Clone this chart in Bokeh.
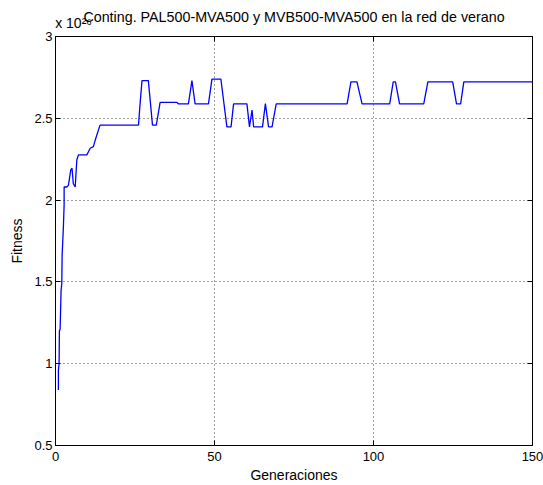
from bokeh.plotting import figure
from bokeh.models import FixedTicker, LinearAxis, Range1d
from bokeh.embed import file_html
from bokeh.resources import INLINE

title_text = "Conting. PAL500-MVA500 y MVB500-MVA500 en la red de verano"
x_label = "Generaciones"
y_label = "Fitness"

generation = [0.91, 0.91, 1.13, 1.23, 1.45, 1.76, 1.98, 2.08, 2.49, 2.71,
              2.71, 3.56, 4.06, 4.8, 5.2, 5.6, 6.2, 6.7, 7.2, 9.85,
              10.9, 11.9, 12.5, 14.0, 26.1, 26.6, 27.2, 29.2, 30.5, 31.7,
              32.9, 38.2, 38.7, 41.8, 42.9, 43.9, 48.1, 49.2, 52.0, 53.9,
              55.2, 56.0, 60.2, 61.0, 61.8, 62.3, 65.1, 66.0, 67.0, 68.1,
              69.4, 91.7, 92.9, 94.8, 96.4, 105.1, 106.2, 106.9, 108.2, 115.8,
              117.1, 124.9, 126.1, 127.4, 128.4, 150.0]
fitness = [0.84, 0.96, 1.0, 1.2, 1.21, 1.45, 1.49, 1.66, 1.84, 1.97,
           2.08, 2.08, 2.09, 2.185, 2.195, 2.10, 2.08, 2.245, 2.276, 2.276,
           2.317, 2.327, 2.367, 2.458, 2.458, 2.59, 2.73, 2.73, 2.458, 2.458,
           2.597, 2.597, 2.588, 2.588, 2.73, 2.588, 2.588, 2.74, 2.74, 2.448,
           2.448, 2.588, 2.588, 2.448, 2.55, 2.448, 2.448, 2.59, 2.448, 2.448,
           2.588, 2.588, 2.723, 2.723, 2.588, 2.588, 2.723, 2.723, 2.588, 2.588,
           2.723, 2.723, 2.588, 2.588, 2.723, 2.723]

x_ticks = [0, 50, 100, 150]
x_tick_labels = ["0", "50", "100", "150"]
y_ticks = [0.5, 1.0, 1.5, 2.0, 2.5, 3.0]
y_tick_labels = ["0.5", "1", "1.5", "2", "2.5", "3"]
exponent_text = "x 10\u00b2\u2076"

FONT = "Liberation Sans"
EXP_POS = 5.7  # horizontal anchor of the exponent marker along the x axis

p = figure(width=543, height=485,
           min_border_left=55, min_border_right=11,
           min_border_top=36, min_border_bottom=40,
           x_range=Range1d(0, 150), y_range=Range1d(0.5, 3.0),
           output_backend="svg", toolbar_location=None,
           background_fill_color="white", border_fill_color="white")

p.title.text = ""

p.outline_line_color = "black"
p.outline_line_width = 1

p.line(generation, fitness, line_color="#0000ff", line_width=1.3)

for ax in (p.xaxis[0], p.yaxis[0]):
    ax.major_tick_in = 5
    ax.major_tick_out = 0
    ax.minor_tick_line_color = None
    ax.axis_line_color = "black"
    ax.major_tick_line_color = "black"
    ax.major_label_text_font = FONT
    ax.major_label_text_font_size = "13px"
    ax.major_label_text_color = "black"
    ax.axis_label_text_font = FONT
    ax.axis_label_text_font_size = "14px"
    ax.axis_label_text_font_style = "normal"
    ax.axis_label_text_color = "black"

p.xaxis[0].ticker = FixedTicker(ticks=x_ticks)
p.xaxis[0].major_label_overrides = dict(zip(x_ticks, x_tick_labels))
p.xaxis[0].major_label_standoff = 6
p.xaxis[0].axis_label = x_label
p.xaxis[0].axis_label_standoff = 3
p.yaxis[0].ticker = FixedTicker(ticks=y_ticks)
p.yaxis[0].major_label_overrides = dict(zip(y_ticks, y_tick_labels))
p.yaxis[0].major_label_standoff = 3
p.yaxis[0].axis_label = y_label
p.yaxis[0].axis_label_standoff = 6

# inward tick marks on the right and top edges (box style)
for loc, tk in (("right", y_ticks), ("above", x_ticks)):
    ax = LinearAxis(ticker=FixedTicker(ticks=tk), major_tick_in=5, major_tick_out=0,
                    minor_tick_line_color=None, major_label_text_font_size="1px",
                    major_label_overrides={t: "" for t in tk},
                    major_label_standoff=0, axis_line_color="black")
    p.add_layout(ax, loc)

# exponent marker + title, drawn by an invisible top axis
top = LinearAxis(ticker=FixedTicker(ticks=[EXP_POS]),
                 major_label_overrides={EXP_POS: exponent_text},
                 major_tick_in=0, major_tick_out=0, major_tick_line_color=None,
                 minor_tick_line_color=None, axis_line_color=None,
                 major_label_standoff=6, major_label_text_font=FONT,
                 major_label_text_font_size="14px", major_label_text_color="black",
                 axis_label=title_text, axis_label_standoff=-13,
                 axis_label_text_font=FONT, axis_label_text_font_size="14.3px",
                 axis_label_text_font_style="normal", axis_label_text_color="black")
p.add_layout(top, "above")

p.xgrid.ticker = FixedTicker(ticks=x_ticks)
p.ygrid.ticker = FixedTicker(ticks=y_ticks)
p.grid.grid_line_color = "black"
p.grid.grid_line_alpha = 0.75
p.grid.grid_line_dash = "1 3"
p.grid.grid_line_width = 1

open("out.html", "w").write(file_html(p, INLINE))
